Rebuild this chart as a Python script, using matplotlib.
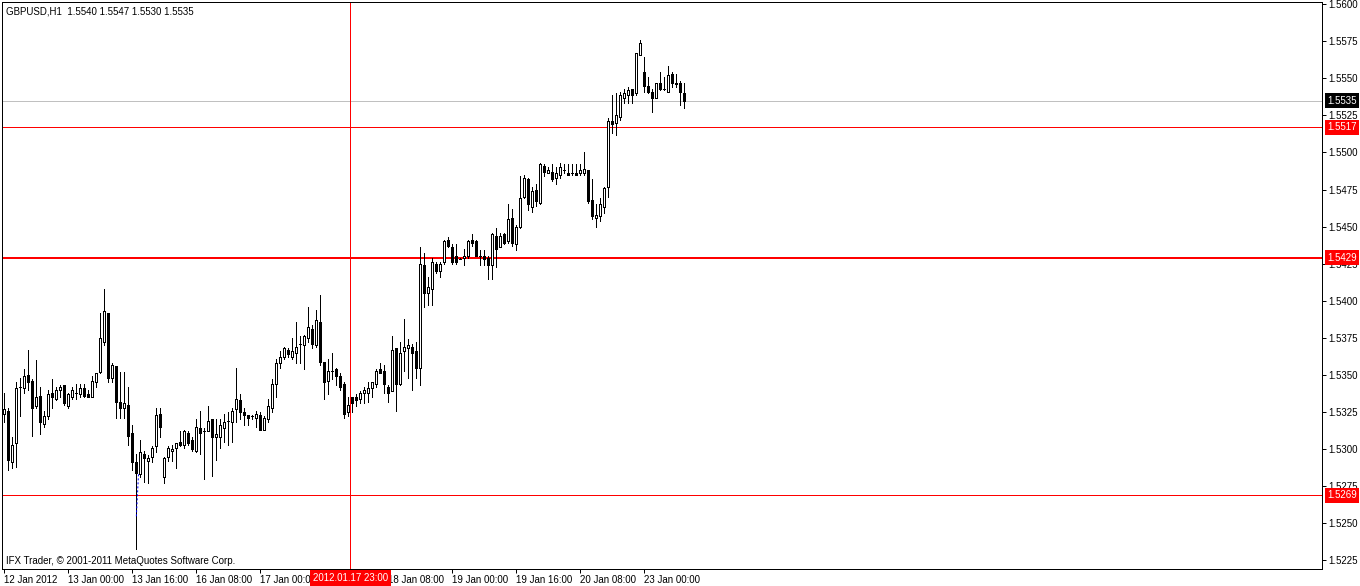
import matplotlib
matplotlib.use("Agg")
import matplotlib.pyplot as plt
import matplotlib.transforms as mtransforms
import numpy as np

plt.rcParams['font.family'] = ['Liberation Sans', 'DejaVu Sans']

# GBPUSD H1 bars, prices in points (1 point = 0.0001)
opens = [15324, 15326, 15291, 15304, 15342, 15341, 15350, 15346, 15329, 15336,
         15317, 15322, 15338, 15334, 15340, 15343, 15329, 15335, 15338, 15337,
         15341, 15337, 15335, 15345, 15352, 15372, 15392, 15348, 15356, 15332,
         15328, 15330, 15311, 15291, 15283, 15297, 15292, 15295, 15302, 15324,
         15281, 15295, 15299, 15301, 15305, 15303, 15311, 15306, 15299, 15314,
         15312, 15312, 15320, 15308, 15308, 15314, 15319, 15318, 15327, 15333,
         15325, 15323, 15322, 15321, 15323, 15313, 15320, 15328, 15344, 15358,
         15362, 15367, 15362, 15365, 15371, 15370, 15375, 15381, 15370, 15386,
         15359, 15346, 15353, 15354, 15349, 15344, 15325, 15335, 15335, 15334,
         15338, 15338, 15341, 15344, 15354, 15353, 15342, 15339, 15368, 15344,
         15366, 15368, 15369, 15366, 15355, 15424, 15405, 15408, 15425, 15420,
         15426, 15441, 15436, 15430, 15428, 15429, 15430, 15441, 15440, 15430,
         15430, 15429, 15424, 15444, 15436, 15445, 15440, 15456, 15438, 15450,
         15470, 15482, 15463, 15475, 15466, 15491, 15486, 15487, 15483, 15485,
         15488, 15486, 15486, 15486, 15486, 15486, 15488, 15468, 15456, 15457,
         15463, 15477, 15521, 15520, 15524, 15537, 15539, 15543, 15540, 15566,
         15554, 15545, 15541, 15537, 15547, 15543, 15541, 15553, 15546, 15547,
         15540]
highs = [15338, 15328, 15308, 15345, 15348, 15354, 15367, 15347, 15360, 15342,
         15326, 15340, 15347, 15342, 15343, 15343, 15338, 15342, 15344, 15344,
         15344, 15340, 15349, 15351, 15392, 15408, 15392, 15358, 15356, 15352,
         15352, 15342, 15316, 15297, 15306, 15299, 15296, 15302, 15328, 15328,
         15295, 15302, 15303, 15304, 15312, 15313, 15312, 15308, 15320, 15326,
         15314, 15329, 15320, 15320, 15320, 15324, 15325, 15328, 15355, 15337,
         15328, 15323, 15323, 15326, 15325, 15322, 15334, 15347, 15361, 15366,
         15369, 15368, 15375, 15386, 15376, 15377, 15396, 15384, 15394, 15404,
         15359, 15361, 15365, 15355, 15351, 15345, 15335, 15335, 15337, 15339,
         15342, 15345, 15345, 15354, 15358, 15357, 15343, 15376, 15368, 15372,
         15388, 15374, 15371, 15372, 15436, 15432, 15416, 15429, 15426, 15426,
         15441, 15443, 15438, 15438, 15429, 15435, 15441, 15445, 15441, 15434,
         15434, 15430, 15446, 15449, 15446, 15446, 15465, 15462, 15451, 15484,
         15485, 15483, 15477, 15479, 15493, 15492, 15490, 15492, 15490, 15493,
         15492, 15492, 15492, 15492, 15492, 15500, 15488, 15482, 15465, 15469,
         15477, 15523, 15539, 15540, 15541, 15543, 15544, 15543, 15567, 15576,
         15564, 15551, 15543, 15547, 15554, 15551, 15558, 15554, 15553, 15548,
         15547]
lows = [15318, 15286, 15287, 15288, 15322, 15338, 15340, 15309, 15328, 15310,
        15315, 15320, 15328, 15333, 15335, 15330, 15328, 15334, 15334, 15335,
        15335, 15335, 15335, 15342, 15351, 15370, 15345, 15345, 15321, 15321,
        15321, 15303, 15286, 15233, 15281, 15278, 15277, 15291, 15298, 15308,
        15277, 15292, 15292, 15287, 15302, 15301, 15303, 15299, 15298, 15297,
        15280, 15312, 15282, 15293, 15301, 15305, 15303, 15305, 15318, 15320,
        15316, 15316, 15320, 15315, 15313, 15313, 15318, 15325, 15335, 15355,
        15361, 15362, 15361, 15358, 15358, 15354, 15372, 15368, 15369, 15357,
        15334, 15337, 15347, 15343, 15340, 15321, 15322, 15325, 15329, 15331,
        15331, 15332, 15335, 15342, 15351, 15338, 15332, 15339, 15326, 15343,
        15353, 15348, 15340, 15348, 15343, 15396, 15397, 15397, 15419, 15416,
        15425, 15436, 15425, 15425, 15428, 15424, 15429, 15437, 15430, 15424,
        15424, 15415, 15415, 15423, 15436, 15438, 15439, 15437, 15434, 15449,
        15469, 15461, 15460, 15464, 15465, 15484, 15486, 15481, 15479, 15483,
        15486, 15485, 15485, 15485, 15485, 15485, 15466, 15455, 15450, 15454,
        15459, 15470, 15513, 15512, 15522, 15533, 15533, 15533, 15539, 15566,
        15541, 15540, 15527, 15537, 15542, 15542, 15541, 15544, 15544, 15532,
        15530]
closes = [15327, 15293, 15303, 15341, 15342, 15349, 15345, 15328, 15335, 15318,
          15322, 15337, 15335, 15340, 15342, 15331, 15337, 15340, 15338, 15341,
          15336, 15335, 15346, 15351, 15375, 15393, 15348, 15357, 15332, 15328,
          15331, 15309, 15291, 15284, 15298, 15294, 15294, 15301, 15323, 15315,
          15294, 15301, 15300, 15304, 15303, 15312, 15304, 15300, 15315, 15311,
          15312, 15319, 15308, 15310, 15316, 15318, 15319, 15326, 15334, 15325,
          15323, 15321, 15322, 15324, 15313, 15321, 15329, 15344, 15358, 15362,
          15368, 15364, 15366, 15369, 15371, 15376, 15382, 15371, 15387, 15359,
          15345, 15353, 15353, 15349, 15342, 15324, 15330, 15331, 15333, 15338,
          15340, 15341, 15345, 15353, 15351, 15344, 15338, 15367, 15344, 15365,
          15369, 15370, 15365, 15355, 15425, 15405, 15409, 15426, 15420, 15425,
          15440, 15437, 15426, 15426, 15428, 15430, 15440, 15439, 15430, 15430,
          15428, 15424, 15445, 15435, 15444, 15439, 15455, 15439, 15450, 15469,
          15483, 15465, 15474, 15467, 15492, 15487, 15488, 15482, 15486, 15490,
          15488, 15485, 15486, 15485, 15488, 15489, 15467, 15457, 15458, 15465,
          15476, 15521, 15519, 15525, 15539, 15540, 15542, 15539, 15567, 15574,
          15545, 15541, 15537, 15547, 15543, 15543, 15552, 15547, 15547, 15541,
          15535]

time_labels = ["12 Jan 2012", "13 Jan 00:00", "13 Jan 16:00", "16 Jan 08:00",
               "17 Jan 00:00", "17 Jan 16:00", "18 Jan 08:00", "19 Jan 00:00",
               "19 Jan 16:00", "20 Jan 08:00", "23 Jan 00:00"]
label_step = 16

price_ticks = [1.5225, 1.5250, 1.5275, 1.5300, 1.5325, 1.5350, 1.5375, 1.5400,
               1.5425, 1.5450, 1.5475, 1.5500, 1.5525, 1.5550, 1.5575, 1.5600]

bid_price = 1.5535
level_thin = [1.5517, 1.5269]
level_thick = 1.5429
cursor_bar = 86.7
cursor_text = "2012.01.17 23:00"
trend_bars = [33.75, 33.2]
trend_prices = [1.5283, 1.5254]

title_text = "GBPUSD,H1  1.5540 1.5547 1.5530 1.5535"
copyright_text = "IFX Trader, \u00a9 2001-2011 MetaQuotes Software Corp."

o = np.array(opens) / 10000
h = np.array(highs) / 10000
l = np.array(lows) / 10000
c = np.array(closes) / 10000
x = np.arange(len(o))

W, H = 1360, 586
fig = plt.figure(figsize=(W / 100, H / 100), dpi=100)
ax = fig.add_axes([2 / W, 17 / H, 1320 / W, 567 / H])
ax.set_xlim(-0.375, 329.625)
ax.set_ylim(1.52192, 1.56014)

px = 72 / 100  # one pixel in points

# level lines
ax.axhline(bid_price, color='#c0c0c0', lw=px, zorder=1)
for lv in level_thin:
    ax.axhline(lv, color='red', lw=px, zorder=1)
ax.axhline(level_thick, color='red', lw=2 * px, zorder=1)
ax.axvline(cursor_bar, color='red', lw=px, zorder=1)

# candles
ax.vlines(x, l, h, color='black', lw=px, antialiased=False, zorder=2)
up = c >= o
bottom = np.minimum(o, c)
height = np.abs(c - o)
ax.bar(x[up], height[up], bottom=bottom[up], width=0.5, facecolor='white',
       edgecolor='black', linewidth=px, antialiased=False, zorder=3)
ax.bar(x[~up], height[~up], bottom=bottom[~up], width=0.5, facecolor='black',
       edgecolor='black', linewidth=px, antialiased=False, zorder=3)

ax.plot(trend_bars, trend_prices, color='blue', lw=px, ls=(0, (2, 2)), zorder=4)

# axes style
for s in ax.spines.values():
    s.set_linewidth(px)
    s.set_color('black')
ax.yaxis.tick_right()
ax.set_yticks(price_ticks)
ax.set_yticklabels([f"{p:.4f}" for p in price_ticks])
ax.set_xticks(np.arange(len(time_labels)) * label_step)
ax.set_xticklabels(time_labels, ha='left')
ax.tick_params(axis='both', direction='out', length=3, width=px,
               labelsize=7, pad=1.5, colors='black')

# price labels on the right scale
tr = mtransforms.blended_transform_factory(ax.transAxes, ax.transData)
ax.text(1.0038, bid_price, f"{bid_price:.4f}", transform=tr, ha='left', va='center',
        fontsize=7, color='white', clip_on=False, zorder=10,
        bbox=dict(boxstyle='square,pad=0.25', fc='black', ec='none'))
for lv in level_thin + [level_thick]:
    ax.text(1.0038, lv, f"{lv:.4f}", transform=tr, ha='left', va='center',
            fontsize=7, color='white', clip_on=False, zorder=10,
            bbox=dict(boxstyle='square,pad=0.25', fc='red', ec='none'))

# cursor time label
trx = mtransforms.blended_transform_factory(ax.transData, ax.transAxes)
ax.text(cursor_bar, -0.016, cursor_text, transform=trx, ha='center', va='center',
        fontsize=7, color='white', clip_on=False, zorder=10,
        bbox=dict(boxstyle='square,pad=0.3', fc='red', ec='none'))

fig.text(6 / W, 1 - 11 / H, title_text, fontsize=7, va='center', ha='left')
fig.text(6 / W, 1 - 561 / H, copyright_text, fontsize=7, va='center', ha='left')

fig.savefig('out.png', dpi=100)
